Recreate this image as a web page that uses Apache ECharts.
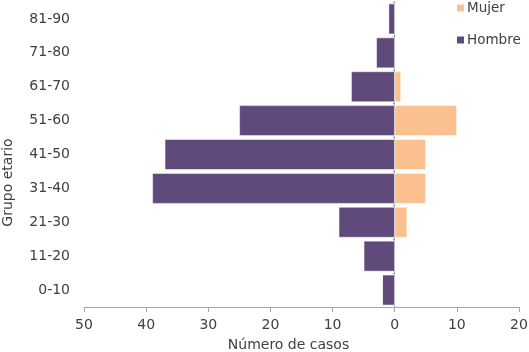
<!DOCTYPE html>
<html>
<head>
<meta charset="utf-8">
<script src="https://cdn.jsdelivr.net/npm/echarts@6/dist/echarts.min.js"></script>
<style>
  html, body { margin: 0; padding: 0; background: #fff; }
  #chart { width: 529px; height: 352px; }
</style>
</head>
<body>
<div id="chart"></div>
<script>
// grupos de edad, de abajo hacia arriba
const grupos = ['0-10', '11-20', '21-30', '31-40', '41-50', '51-60', '61-70', '71-80', '81-90']
// casos por grupo
const hombre = [2, 5, 9, 39, 37, 25, 7, 3, 1]
const mujer = [0, 0, 2, 5, 5, 10, 1, 0, 0]
const xTicks = [-50, -40, -30, -20, -10, 0, 10, 20]

const textColor = '#404040'
const lineColor = '#a6a6a6'
const font = '"DejaVu Sans", Verdana, sans-serif'

const chart = echarts.init(document.getElementById('chart'))

const option = {
  animation: false,
  textStyle: { fontFamily: font },
  legend: {
    data: ['Mujer', 'Hombre'],
    orient: 'vertical',
    left: 455,
    top: 1,
    padding: 0,
    itemWidth: 9,
    itemHeight: 9,
    itemGap: 18,
    icon: 'rect',
    textStyle: { fontSize: 13.5, color: textColor, fontFamily: font, padding: [0, 0, 0, -3] }
  },
  grid: {
    left: 84,
    right: 10,
    top: 2,
    bottom: 45,
    outerBoundsMode: 'none'
  },
  xAxis: {
    type: 'value',
    min: xTicks[0],
    max: xTicks[xTicks.length - 1],
    interval: 10,
    name: 'Número de casos',
    nameLocation: 'middle',
    nameGap: 31,
    nameTextStyle: { fontSize: 14, color: textColor, fontFamily: font, padding: [0, 26, 0, 0] },
    axisLine: { show: true, onZero: false, lineStyle: { color: lineColor } },
    axisTick: { show: true, length: 5, lineStyle: { color: lineColor } },
    axisLabel: {
      fontSize: 14,
      color: textColor,
      margin: 11,
      formatter: (v) => Math.abs(v)
    },
    splitLine: { show: false }
  },
  yAxis: [
    {
      type: 'category',
      data: grupos,
      name: 'Grupo etario',
      nameLocation: 'middle',
      nameGap: 69,
      nameRotate: 90,
      nameTextStyle: { fontSize: 14, color: textColor, fontFamily: font, padding: [0, 56, 0, 0] },
      axisLine: { show: false, onZero: false },
      axisTick: { show: false },
      axisLabel: { fontSize: 14, color: textColor, margin: 14 }
    },
    {
      type: 'category',
      data: grupos,
      position: 'left',
      axisLine: { show: true, onZero: true, lineStyle: { color: lineColor } },
      axisTick: { show: true, length: 2, lineStyle: { color: lineColor } },
      axisLabel: { show: false }
    }
  ],
  series: [
    {
      name: 'Hombre',
      type: 'bar',
      stack: 'total',
      barCategoryGap: '10%',
      itemStyle: { color: '#604a7b', borderColor: '#fff', borderWidth: 0.5 },
      data: hombre.map((v) => -v)
    },
    {
      name: 'Mujer',
      type: 'bar',
      stack: 'total',
      barCategoryGap: '10%',
      itemStyle: { color: '#fac090', borderColor: '#fff', borderWidth: 0.5 },
      data: mujer
    }
  ]
}

chart.setOption(option)
</script>
</body>
</html>
